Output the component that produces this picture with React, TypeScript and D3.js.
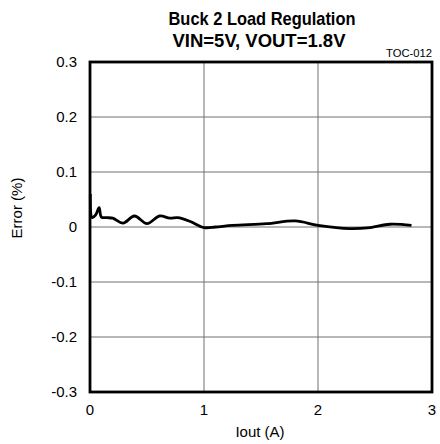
import React from "react";
import * as d3 from "d3";

const iout = [0.003, 0.02, 0.05, 0.08, 0.1, 0.15, 0.2, 0.29, 0.39, 0.5, 0.61, 0.7, 0.77, 0.88, 1.0, 1.1, 1.25, 1.55, 1.8, 2.0, 2.28, 2.46, 2.63, 2.82];
const errorPct = [0.06, 0.017, 0.022, 0.035, 0.018, 0.017, 0.016, 0.007, 0.02, 0.006, 0.02, 0.016, 0.017, 0.01, -0.001, 0.0, 0.003, 0.006, 0.011, 0.003, -0.003, -0.001, 0.005, 0.003];
const xTicks = [0, 1, 2, 3];
const yTicks = [0.3, 0.2, 0.1, 0, -0.1, -0.2, -0.3];

const W = 440, H = 444;
const M = { left: 90, right: 432, top: 62, bottom: 392 };
const FONT = "'Liberation Sans', Arial, sans-serif";

export default function App() {
  const x = d3.scaleLinear().domain([0, 3]).range([M.left, M.right]);
  const y = d3.scaleLinear().domain([-0.3, 0.3]).range([M.bottom, M.top]);
  const pts = iout.map((v, i) => [v, errorPct[i]] as [number, number]);
  const line = d3.line<[number, number]>().x(d => x(d[0])).y(d => y(d[1])).curve(d3.curveCatmullRom.alpha(0.5));
  return (
    <svg width={W} height={H} style={{ position: "absolute", left: 0, top: 0 }}>
      <rect width={W} height={H} fill="#fff" />
      <text x={262} y={25} textAnchor="middle" fontFamily={FONT} fontWeight="bold" fontSize={19} textLength={187} lengthAdjust="spacingAndGlyphs">Buck 2 Load Regulation</text>
      <text x={259} y={47} textAnchor="middle" fontFamily={FONT} fontWeight="bold" fontSize={19} textLength={173} lengthAdjust="spacingAndGlyphs">VIN=5V, VOUT=1.8V</text>
      <text x={432} y={57} textAnchor="end" fontFamily={FONT} fontSize={11} textLength={46} lengthAdjust="spacingAndGlyphs">TOC-012</text>
      {xTicks.slice(1, -1).map(t => (
        <line key={"xg" + t} x1={x(t)} x2={x(t)} y1={M.top} y2={M.bottom} stroke="#707070" strokeWidth={1} />
      ))}
      {yTicks.slice(1, -1).map(t => (
        <line key={"yg" + t} x1={M.left} x2={M.right} y1={y(t)} y2={y(t)} stroke="#707070" strokeWidth={1} />
      ))}
      <path d={line(pts) || ""} fill="none" stroke="#000" strokeWidth={2.8} strokeLinejoin="round" />
      <rect x={M.left} y={M.top} width={M.right - M.left} height={M.bottom - M.top} fill="none" stroke="#000" strokeWidth={2.8} />
      {yTicks.map(t => (
        <text key={"yl" + t} x={M.left - 13} y={y(t) + 5} textAnchor="end" fontFamily={FONT} fontSize={15}>{String(t)}</text>
      ))}
      {xTicks.map(t => (
        <text key={"xl" + t} x={x(t)} y={415} textAnchor="middle" fontFamily={FONT} fontSize={15}>{t}</text>
      ))}
      <text x={260} y={437} textAnchor="middle" fontFamily={FONT} fontSize={15}>Iout (A)</text>
      <text transform={`translate(22,208) rotate(-90)`} textAnchor="middle" fontFamily={FONT} fontSize={15}>Error (%)</text>
    </svg>
  );
}
